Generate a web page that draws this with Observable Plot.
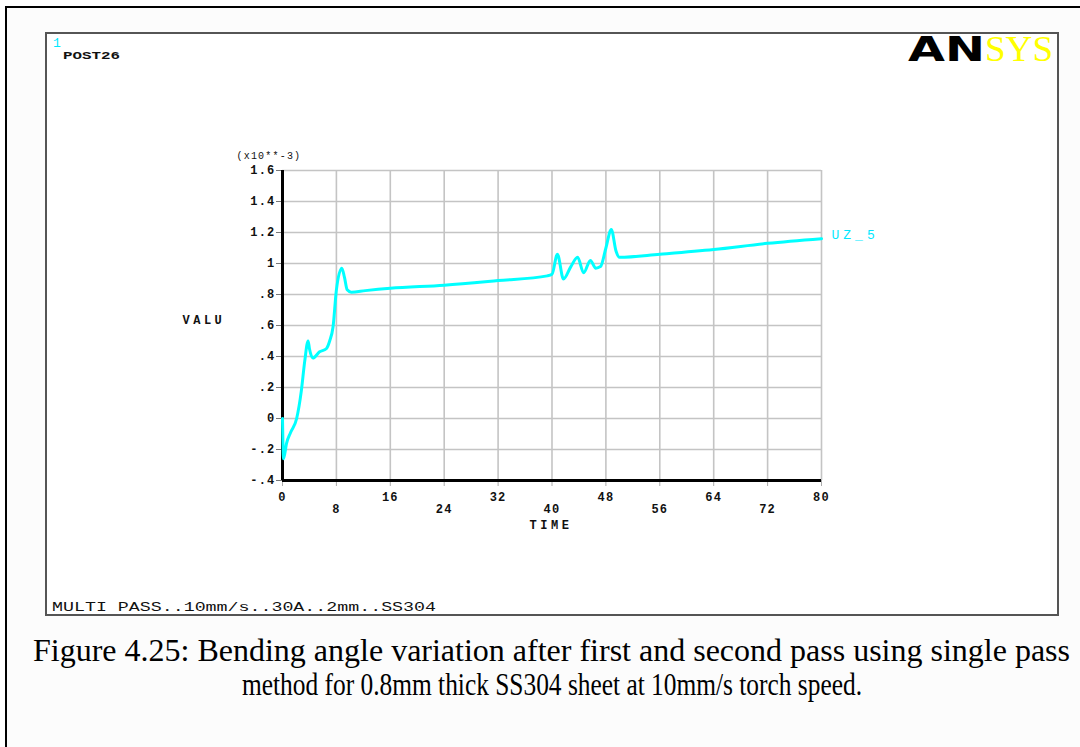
<!DOCTYPE html>
<html>
<head>
<meta charset="utf-8">
<script src="https://cdn.jsdelivr.net/npm/d3@7"></script>
<script src="https://cdn.jsdelivr.net/npm/@observablehq/plot@0.6"></script>
<style>
  html, body { margin: 0; padding: 0; background: #fff; }
  #wrap { position: relative; width: 1080px; height: 747px; overflow: hidden; }
  #wrap svg { position: absolute; left: 0; top: 0; }
</style>
</head>
<body>
<div id="wrap"></div>
<script>
// ---- data ----
const time = [0, 0.15, 0.6, 1.2, 2.1, 2.8, 3.3, 3.8, 4.0, 4.5, 5.5, 6.5, 7.0, 7.5, 8.0, 8.8, 9.2, 9.6, 10.2, 12.3, 16, 24, 32, 39.3, 40.0, 40.8, 41.7, 42.8, 43.8, 44.7, 45.7, 46.5, 47.2, 48.0, 48.8, 49.5, 50.0, 56, 64, 72, 80];
const uz5  = [0, -0.26, -0.16, -0.09, 0.0, 0.18, 0.37, 0.50, 0.45, 0.39, 0.43, 0.45, 0.50, 0.59, 0.83, 0.97, 0.91, 0.83, 0.815, 0.825, 0.84, 0.86, 0.89, 0.92, 0.93, 1.06, 0.90, 0.98, 1.04, 0.94, 1.02, 0.97, 0.98, 1.10, 1.22, 1.08, 1.04, 1.06, 1.09, 1.13, 1.16];
const seriesName = "UZ_5";
const xTicksUpper = [0, 16, 32, 48, 64, 80];
const xTicksLower = [8, 24, 40, 56, 72];
const yTicks = [-0.4, -0.2, 0, 0.2, 0.4, 0.6, 0.8, 1.0, 1.2, 1.4, 1.6];
const yTickLabels = ["-.4", "-.2", "0", ".2", ".4", ".6", ".8", "1", "1.2", "1.4", "1.6"];
const xLabel = "TIME";
const yLabel = "VALU";
const yMultiplier = "(x10**-3)";
const headerNumber = "1";
const headerText = "POST26";
const footerText = "MULTI PASS..10mm/s..30A..2mm..SS304";
const captionLines = [
  "Figure 4.25: Bending angle variation after first and second pass using single pass",
  "method for 0.8mm thick SS304 sheet at 10mm/s torch speed."
];

const data = time.map((t, i) => ({time: t, value: uz5[i]}));
const last = data[data.length - 1];

// ---- decorations (frame, logo, captions) ----
const wrap = document.getElementById("wrap");
const deco = d3.create("svg").attr("width", 1080).attr("height", 747);
wrap.appendChild(deco.node());
deco.append("rect").attr("x", 0).attr("y", 0).attr("width", 1080).attr("height", 747).attr("fill", "#fff");
deco.append("rect").attr("x", 6).attr("y", 7).attr("width", 1100).attr("height", 760)
  .attr("fill", "#fcfcfc").attr("stroke", "#000").attr("stroke-width", 2);
deco.append("rect").attr("x", 46).attr("y", 33).attr("width", 1012).attr("height", 582)
  .attr("fill", "#fff").attr("stroke", "#555").attr("stroke-width", 2);
deco.append("text").attr("x", 53).attr("y", 47).attr("fill", "#00e8ff")
  .attr("font-family", "Liberation Mono").attr("font-size", 13).text(headerNumber);
deco.append("text").attr("x", 63).attr("y", 59).attr("fill", "#111")
  .attr("font-family", "Liberation Mono").attr("font-weight", "bold").attr("font-size", 11)
  .attr("textLength", 57).attr("lengthAdjust", "spacingAndGlyphs").text(headerText);
deco.append("text").attr("x", 52).attr("y", 611).attr("fill", "#111")
  .attr("font-family", "Liberation Mono").attr("font-size", 13)
  .attr("textLength", 384).attr("lengthAdjust", "spacingAndGlyphs").text(footerText);
// logo
deco.append("text").attr("x", 908).attr("y", 61).attr("fill", "#000")
  .attr("font-family", "DejaVu Sans").attr("font-weight", "bold").attr("font-size", 34)
  .attr("textLength", 77).attr("lengthAdjust", "spacingAndGlyphs").text("AN");
deco.append("text").attr("x", 985).attr("y", 61).attr("fill", "#ffff00")
  .attr("font-family", "Liberation Serif").attr("font-size", 36)
  .attr("textLength", 68).attr("lengthAdjust", "spacingAndGlyphs").text("SYS");
// caption
deco.append("text").attr("x", 551.5).attr("y", 661).attr("text-anchor", "middle").attr("fill", "#000")
  .attr("font-family", "Liberation Serif").attr("font-size", 32)
  .attr("textLength", 1037).attr("lengthAdjust", "spacingAndGlyphs").text(captionLines[0]);
deco.append("text").attr("x", 552).attr("y", 695).attr("text-anchor", "middle").attr("fill", "#000")
  .attr("font-family", "Liberation Serif").attr("font-size", 32)
  .attr("textLength", 620).attr("lengthAdjust", "spacingAndGlyphs").text(captionLines[1]);

// ---- chart ----
const chart = Plot.plot({
  width: 1080,
  height: 747,
  marginLeft: 282,
  marginRight: 259,
  marginTop: 170,
  marginBottom: 267,
  style: {background: "transparent", fontFamily: "Liberation Mono", fontSize: "12px", fontWeight: "bold", color: "#111"},
  x: {domain: [0, 80]},
  y: {domain: [-0.4, 1.6]},
  marks: [
    Plot.gridX([...xTicksUpper, ...xTicksLower], {stroke: "#c4c4c4", strokeOpacity: 1, strokeWidth: 1.6}),
    Plot.gridY(yTicks, {stroke: "#c4c4c4", strokeOpacity: 1, strokeWidth: 1.6}),
    Plot.axisY(yTicks, {tickSize: 6, tickPadding: 1, label: null, stroke: "#777", fill: "#111",
      tickFormat: d => yTickLabels[yTicks.indexOf(d)]}),
    Plot.axisX(xTicksUpper, {tickSize: 6, tickPadding: 6, label: null, stroke: "#aaa", fill: "#111", tickFormat: d => String(d)}),
    Plot.axisX(xTicksLower, {tickSize: 6, tickPadding: 18, label: null, stroke: "#aaa", fill: "#111", tickFormat: d => String(d)}),
    Plot.ruleX([0], {stroke: "#000", strokeWidth: 3}),
    Plot.ruleY([-0.4], {stroke: "#000", strokeWidth: 3}),
    Plot.line(data, {x: "time", y: "value", stroke: "#00ffff", strokeWidth: 3, curve: "monotone-x"}),
    Plot.text([last], {x: "time", y: "value", text: () => seriesName, dx: 10, dy: -4, textAnchor: "start", fill: "#00e8ff", fontWeight: "normal", fontSize: 13}),
    Plot.text([yLabel], {frameAnchor: "left", dx: -100, dy: -5, textAnchor: "start", fill: "#111", fontSize: 12}),
    Plot.text([xLabel], {frameAnchor: "bottom", dx: -1, dy: 48, fill: "#111", fontSize: 12}),
    Plot.text([yMultiplier], {frameAnchor: "top-left", dx: -46, dy: -19, textAnchor: "start", fill: "#111", fontSize: 10, fontWeight: "normal"})
  ]
});
wrap.appendChild(chart);

// letter spacing like the ANSYS raster font
d3.select(chart).selectAll("text").style("letter-spacing", "1.2px");
d3.select(chart).selectAll("text").filter(function() { const t = this.textContent; return t === xLabel || t === yLabel; })
  .style("letter-spacing", "3.5px");
d3.select(chart).selectAll("text").filter(function() { return this.textContent === seriesName; })
  .style("letter-spacing", "4px");
</script>
</body>
</html>
